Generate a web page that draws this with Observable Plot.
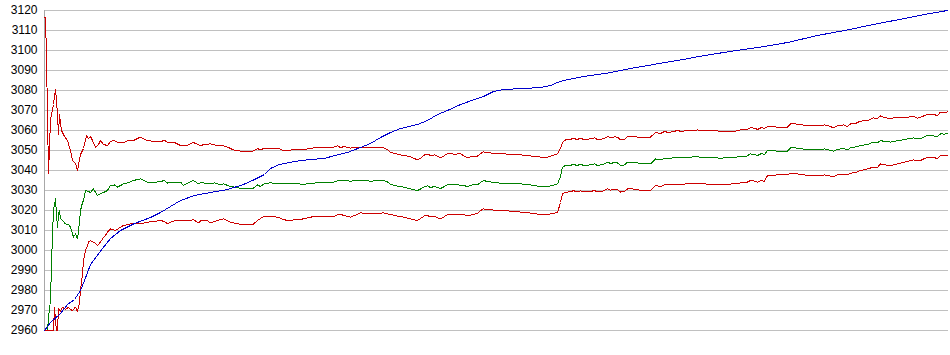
<!DOCTYPE html>
<html>
<head>
<meta charset="utf-8">
<script src="https://cdn.jsdelivr.net/npm/d3@7"></script>
<script src="https://cdn.jsdelivr.net/npm/@observablehq/plot@0.6"></script>
<style>
  html, body { margin: 0; padding: 0; background: #ffffff; }
  #chart svg { display: block; }
</style>
</head>
<body>
<div id="chart"></div>
<script>
// y-axis tick labels
const yTicks = [2960, 2970, 2980, 2990, 3000, 3010, 3020, 3030, 3040, 3050, 3060, 3070, 3080, 3090, 3100, 3110, 3120];

// Blue rising line
const blueT = [0,6,16,23,30,36,40,46,52,58,66,76,90,106,116,126,136,150,166,183,199,210,220,226,235,250,266,280,290,303,316,326,336,346,356,373,383,393,403,416,430,439,449,459,479,496,506,513,519,539,563,586,609,633,660,696,716,743,773,803,829,863,883,903];
const blueV = [2960,2964,2968.5,2973,2975.5,2980,2985,2993,2997,3001,3006,3010,3013.5,3016.5,3019,3022,3025,3027.5,3029,3030.5,3033,3035.5,3038,3041,3043,3044.5,3045.5,3046,3047.5,3049,3051.5,3053.5,3056.5,3059,3061,3063,3065,3068,3070,3073,3075.5,3077,3079.5,3080.5,3081,3081.5,3082.5,3084,3085,3087,3088.7,3091,3093,3095,3097.5,3100.3,3101.7,3104,3107.5,3110.3,3113,3116.3,3118.3,3120];

// Upper red band
const upperT = [0,1,2,4,6,7,9,10,11,12,13,14,15,17,20,23,26,28,31,33,36,39,42,44,46,48,51,54,56,59,63,66,69,74,79,84,89,93,96,100,103,110,116,120,123,127,130,136,142,149,152,156,160,166,170,175,179,183,189,199,208,213,216,220,233,238,243,250,259,265,269,280,289,293,296,300,306,310,316,326,339,343,346,352,359,365,370,373,377,380,383,386,390,396,400,403,406,410,416,419,423,428,433,436,439,443,449,456,466,476,486,496,503,508,513,516,518,521,526,529,532,536,540,546,550,553,559,563,566,570,573,576,580,583,588,593,596,601,606,611,616,620,624,629,633,637,643,648,653,658,663,670,676,689,696,702,706,710,713,717,720,723,733,743,746,750,753,763,776,780,786,789,793,796,799,803,806,811,816,823,829,833,836,840,846,849,860,869,873,876,883,889,893,896,900,903];
const upperV = [3116.7,3116.7,3096.7,3038.5,3065,3068,3073,3077.5,3080.3,3075,3068,3058,3068,3060,3057,3055,3050,3045,3043.5,3040,3048,3051,3057.5,3056,3057,3055,3051.5,3053,3055,3053,3052.5,3054.5,3055,3054,3054,3055,3055,3056,3056.7,3055.5,3055,3054.5,3054.5,3055,3054.2,3054,3054,3052.5,3052.5,3054,3053.3,3052.5,3053,3053.3,3052.8,3052.3,3052.3,3051.7,3050.3,3049.5,3049.5,3051,3050.3,3051.2,3051.2,3050.2,3050,3050.5,3050.3,3051,3051.3,3051.5,3051.7,3052.3,3051.5,3052,3051.2,3051.7,3051.7,3051.5,3051.3,3050.5,3049,3048.3,3047.5,3047,3046,3045.3,3046.5,3047.8,3048.2,3047.5,3047.8,3046.3,3047.5,3048.5,3048.3,3048.2,3048.3,3047.5,3046.3,3047.2,3047.2,3048.5,3049.3,3049,3048.5,3048.3,3048.2,3047.8,3047.3,3046.7,3046.7,3047.5,3048.3,3051,3054,3055.3,3055.5,3056.2,3055.5,3056,3055.5,3055.8,3056.3,3055.5,3055.8,3057,3056.5,3056.8,3056.7,3055.3,3055.5,3057,3057,3056.7,3056.3,3056.5,3056.7,3059,3058.5,3059.5,3059,3059.5,3060,3059.5,3060,3059.8,3060.3,3059.8,3060,3060,3059.5,3059.5,3060.3,3060.5,3061.3,3061.2,3060.5,3061.5,3061,3062,3061.7,3061.7,3063.3,3063.5,3063,3062.5,3062.5,3062.8,3062,3061.3,3062.3,3062.3,3062.8,3062,3063.3,3063.5,3064.7,3065,3066.3,3066,3067.3,3066.5,3065.8,3066.3,3066.5,3067,3066.2,3066.7,3068,3068,3067.5,3069.2,3069,3069.3];

// Middle green line
const greenT = [0,3,4,6,7,8,9,10,11,12,13,14,15,16,18,21,24,26,29,31,33,35,36,38,39,41,44,46,49,51,53,56,59,63,66,70,73,76,79,84,89,93,96,100,103,110,116,120,123,127,130,136,139,142,149,152,154,156,159,163,166,170,175,179,186,192,199,208,213,216,220,226,233,239,245,252,259,265,269,280,289,293,296,306,316,326,339,343,346,352,359,365,370,373,377,380,383,386,390,396,400,403,410,419,423,428,433,436,439,443,449,456,466,476,486,496,503,508,513,516,518,521,526,529,532,536,540,546,550,553,559,563,566,570,573,576,580,583,588,593,596,606,611,616,620,629,643,653,663,676,689,696,702,706,710,713,717,720,723,733,743,746,750,753,763,776,780,786,789,793,799,803,806,811,816,823,829,833,836,840,846,849,860,869,873,876,883,889,893,896,900,903];
const greenV = [2960,2960,2966.7,2975,2993,3008,3020,3023,3025.8,3018,3011.7,3018,3020,3016,3015,3013.3,3013,3011.7,3006.7,3008.3,3005.8,3014,3020,3024,3025,3030,3029.5,3029,3030.8,3029,3027.5,3028.5,3029,3030,3032.5,3032.8,3031.7,3032.5,3033.3,3034,3035,3035.5,3035.8,3035,3034,3034,3034.5,3035,3033.7,3034,3034,3034.2,3032.5,3033.5,3035,3034,3033.3,3034,3033.8,3033.5,3033.3,3033.8,3033,3033.3,3032,3031.5,3030.8,3030.8,3032.8,3032,3033.5,3033.8,3033.5,3033.3,3033.3,3033.5,3033,3033.5,3033.7,3034,3034.2,3034.8,3035,3034.7,3035,3034.7,3035,3034.3,3033,3032.3,3031.7,3031,3030.3,3030,3031,3032,3032.3,3031.5,3032,3031,3032,3033,3033,3032.5,3032,3032.8,3032.8,3034,3035,3034.5,3034,3033.7,3033.5,3033.3,3032.8,3032,3032,3032.5,3033.3,3037,3041.7,3042.5,3042.5,3043.2,3042.5,3043,3042.5,3042.8,3043.3,3042.5,3043,3044.2,3043.5,3044,3043.8,3042.5,3042.8,3044.2,3044.2,3043.8,3043.3,3043.3,3045.8,3045.3,3046,3046.3,3046.7,3046.8,3046.5,3046.2,3046.5,3047,3047.2,3048.3,3048,3047.5,3048.5,3048,3050,3049.7,3049.7,3051.3,3051.5,3051,3050.5,3050.5,3050.8,3050,3049.7,3050.5,3051,3050.3,3051.3,3051.8,3052.5,3053,3054.2,3053.8,3055,3054.5,3054.2,3054.5,3055.5,3056.3,3055.8,3056,3057.5,3057.3,3057,3058.3,3058.2,3058.4];

// Lower red band
const lowerT = [0,8,9,10,11,12,13,14,16,18,21,24,26,28,31,33,35,36,38,39,41,43,44,46,49,51,53,56,58,61,63,66,71,76,79,86,96,103,110,116,120,123,127,130,136,142,149,152,154,156,159,163,166,170,175,179,186,192,199,208,213,216,219,226,233,239,243,250,259,265,269,280,289,293,296,300,306,310,316,326,339,343,346,352,359,365,370,373,377,380,383,386,390,396,400,403,410,419,423,428,433,436,439,443,449,456,466,476,486,496,503,508,513,516,518,521,526,529,532,536,540,546,550,553,559,563,566,570,573,576,580,583,588,593,596,606,611,616,620,629,643,653,663,676,689,696,702,706,710,713,717,720,723,733,743,746,750,753,763,776,780,786,789,793,799,803,806,811,816,823,829,833,836,840,846,849,860,869,873,876,883,889,893,896,900,903];
const lowerV = [2960,2960,2960,2971.7,2965,2960,2960,2971,2969.5,2971.7,2970.5,2971.7,2970.5,2970,2971.7,2969.5,2974,2980,2988.3,2995,3000,3002.5,3004.2,3004.8,3004.2,3003.5,3002.5,3004.2,3005.8,3007.5,3009.2,3010.8,3010,3011.7,3012.5,3013.3,3013.3,3014.2,3014.5,3015,3014.5,3013.3,3014.5,3014.8,3015,3015,3015.3,3014.5,3013.8,3014.8,3015,3014.8,3013.8,3014.5,3015.3,3015.8,3014.2,3013.5,3012.8,3012.8,3015,3016,3017,3017,3016.7,3015.5,3015,3015.3,3015.8,3016.5,3017,3017,3017,3017.8,3018,3017.5,3016.7,3017.5,3018.8,3018.3,3018.8,3018.3,3018,3017.3,3016.7,3016,3015.3,3015,3016.3,3017.3,3017.5,3016.8,3017,3015.8,3017,3018,3018,3018,3017.3,3018,3018.5,3020,3020.8,3020.5,3020.2,3020,3019.7,3019.2,3018.7,3018,3018,3018.5,3019,3024,3028.3,3029.2,3029.3,3030,3029.3,3029.8,3029.3,3029.5,3030,3029.3,3029.8,3030.8,3030.2,3030.6,3030.5,3029.2,3029.5,3030.8,3030.8,3030.4,3030,3030,3032.5,3032,3032.8,3033,3033.3,3033.5,3033.2,3033,3033.3,3033.8,3034,3035,3034.7,3034.2,3035,3034.6,3037.5,3037.8,3038,3038.5,3038.7,3038.3,3037.6,3037.5,3037.8,3037.2,3037,3037.8,3038.2,3037.8,3038.6,3039,3040,3040.8,3041.7,3041.5,3043.3,3042.8,3042.5,3042.8,3044.2,3045.3,3044.8,3045,3046.7,3046.5,3046,3047.5,3047.3,3047.5];

const rows = (T, V) => T.map((t, i) => ({t, v: V[i]}));

const chart = Plot.plot({
  width: 950,
  height: 355,
  marginLeft: 44,
  marginRight: 2,
  marginTop: 10,
  marginBottom: 25,
  style: {fontFamily: "Arial, 'Liberation Sans', sans-serif", fontSize: "12px", background: "#ffffff", color: "#000"},
  x: {domain: [0, 904], axis: null},
  y: {domain: [2960, 3120], label: null, axis: null},
  marks: [
    Plot.gridY(yTicks, {stroke: "#c0c0c0", strokeOpacity: 1}),
    Plot.ruleX([0], {stroke: "#a8a8a8"}),
    Plot.axisY(yTicks, {tickSize: 0, tickPadding: 7, fontSize: 12, label: null, fill: "#000", tickFormat: d => String(d)}),
    Plot.line(rows(upperT, upperV), {x: "t", y: "v", stroke: "#cc0000", strokeWidth: 1, shapeRendering: "crispEdges"}),
    Plot.line(rows(greenT, greenV), {x: "t", y: "v", stroke: "#008000", strokeWidth: 1, shapeRendering: "crispEdges"}),
    Plot.line(rows(lowerT, lowerV), {x: "t", y: "v", stroke: "#cc0000", strokeWidth: 1, shapeRendering: "crispEdges"}),
    Plot.line(rows(blueT, blueV), {x: "t", y: "v", stroke: "#0000cc", strokeWidth: 1, shapeRendering: "crispEdges"})
  ]
});
document.getElementById("chart").appendChild(chart);
</script>
</body>
</html>
